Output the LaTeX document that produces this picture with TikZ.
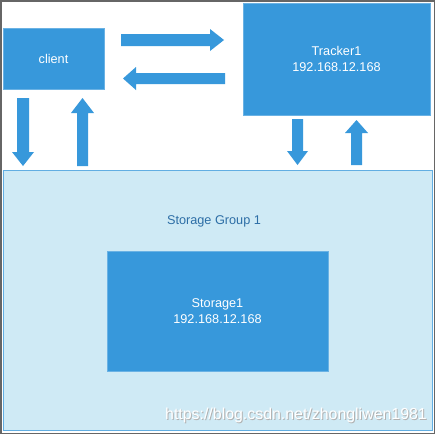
\documentclass[tikz,border=0pt]{standalone}
\usepackage{fontspec}
\setmainfont{Liberation Sans}
\definecolor{mainblue}{HTML}{3798DB}
\definecolor{edgeblue}{HTML}{6AB2E4}
\definecolor{lightfill}{HTML}{CFEAF5}
\definecolor{groupedge}{HTML}{62AEE2}
\definecolor{labelblue}{HTML}{2D6EA6}
\begin{document}
\begin{tikzpicture}[x=1pt,y=-1pt,
  bluebox/.style={draw=edgeblue,line width=0.8pt,fill=mainblue,text=white,inner sep=0pt,outer sep=0pt,align=center,
    font=\fontsize{12.7}{16}\selectfont},
  groupbox/.style={draw=groupedge,line width=1pt,fill=lightfill,inner sep=0pt,outer sep=0pt},
  blockarrow/.style={fill=mainblue,draw=none}]
\useasboundingbox (0,0) rectangle (435,434);
\fill[white] (0,0) rectangle (435,434);
\draw[gray!80!black,line width=1.5pt] (0.75,0.75) rectangle (434.25,433.25);
% storage group
\node[groupbox,minimum width=429pt,minimum height=260pt] (group) at (217.5,300) {};
\node[text=labelblue,font=\fontsize{12.7}{16}\selectfont,inner sep=0pt] (grouplabel) at (214,221) {Storage Group 1};
\node[bluebox,minimum width=221pt,minimum height=120pt] (storage) at (217.5,311) {Storage1\\192.168.12.168};
% client and tracker
\node[bluebox,minimum width=101pt,minimum height=61pt] (client) at (53.5,58.5) {client};
\node[bluebox,minimum width=187pt,minimum height=112pt] (tracker) at (336.5,59) {Tracker1\\192.168.12.168};
% arrows
\fill[blockarrow] (121,34) -- (210,34) -- (210,29) -- (224,40) -- (210,51) -- (210,46) -- (121,46) -- cycle;
\fill[blockarrow] (225,73) -- (136,73) -- (136,67) -- (123,78.5) -- (136,90) -- (136,84) -- (225,84) -- cycle;
\fill[blockarrow] (17,98) -- (29,98) -- (29,152) -- (34,152) -- (23,166) -- (12,152) -- (17,152) -- cycle;
\fill[blockarrow] (77,166) -- (88,166) -- (88,113) -- (94,113) -- (82.5,98) -- (71,113) -- (77,113) -- cycle;
\fill[blockarrow] (292,119) -- (303,119) -- (303,151) -- (308,151) -- (297.5,165) -- (287,151) -- (292,151) -- cycle;
\fill[blockarrow] (351,165) -- (362,165) -- (362,133) -- (368,133) -- (356.5,120) -- (345,133) -- (351,133) -- cycle;
% watermark
\node[text=gray!60,font=\fontsize{15.9}{18}\selectfont,inner sep=0pt] (wmshadow) at (297,416) {https://blog.csdn.net/zhongliwen1981};
\node[text=white,font=\fontsize{15.9}{18}\selectfont,inner sep=0pt] (watermark) at (296,415) {https://blog.csdn.net/zhongliwen1981};
\end{tikzpicture}
\end{document}
